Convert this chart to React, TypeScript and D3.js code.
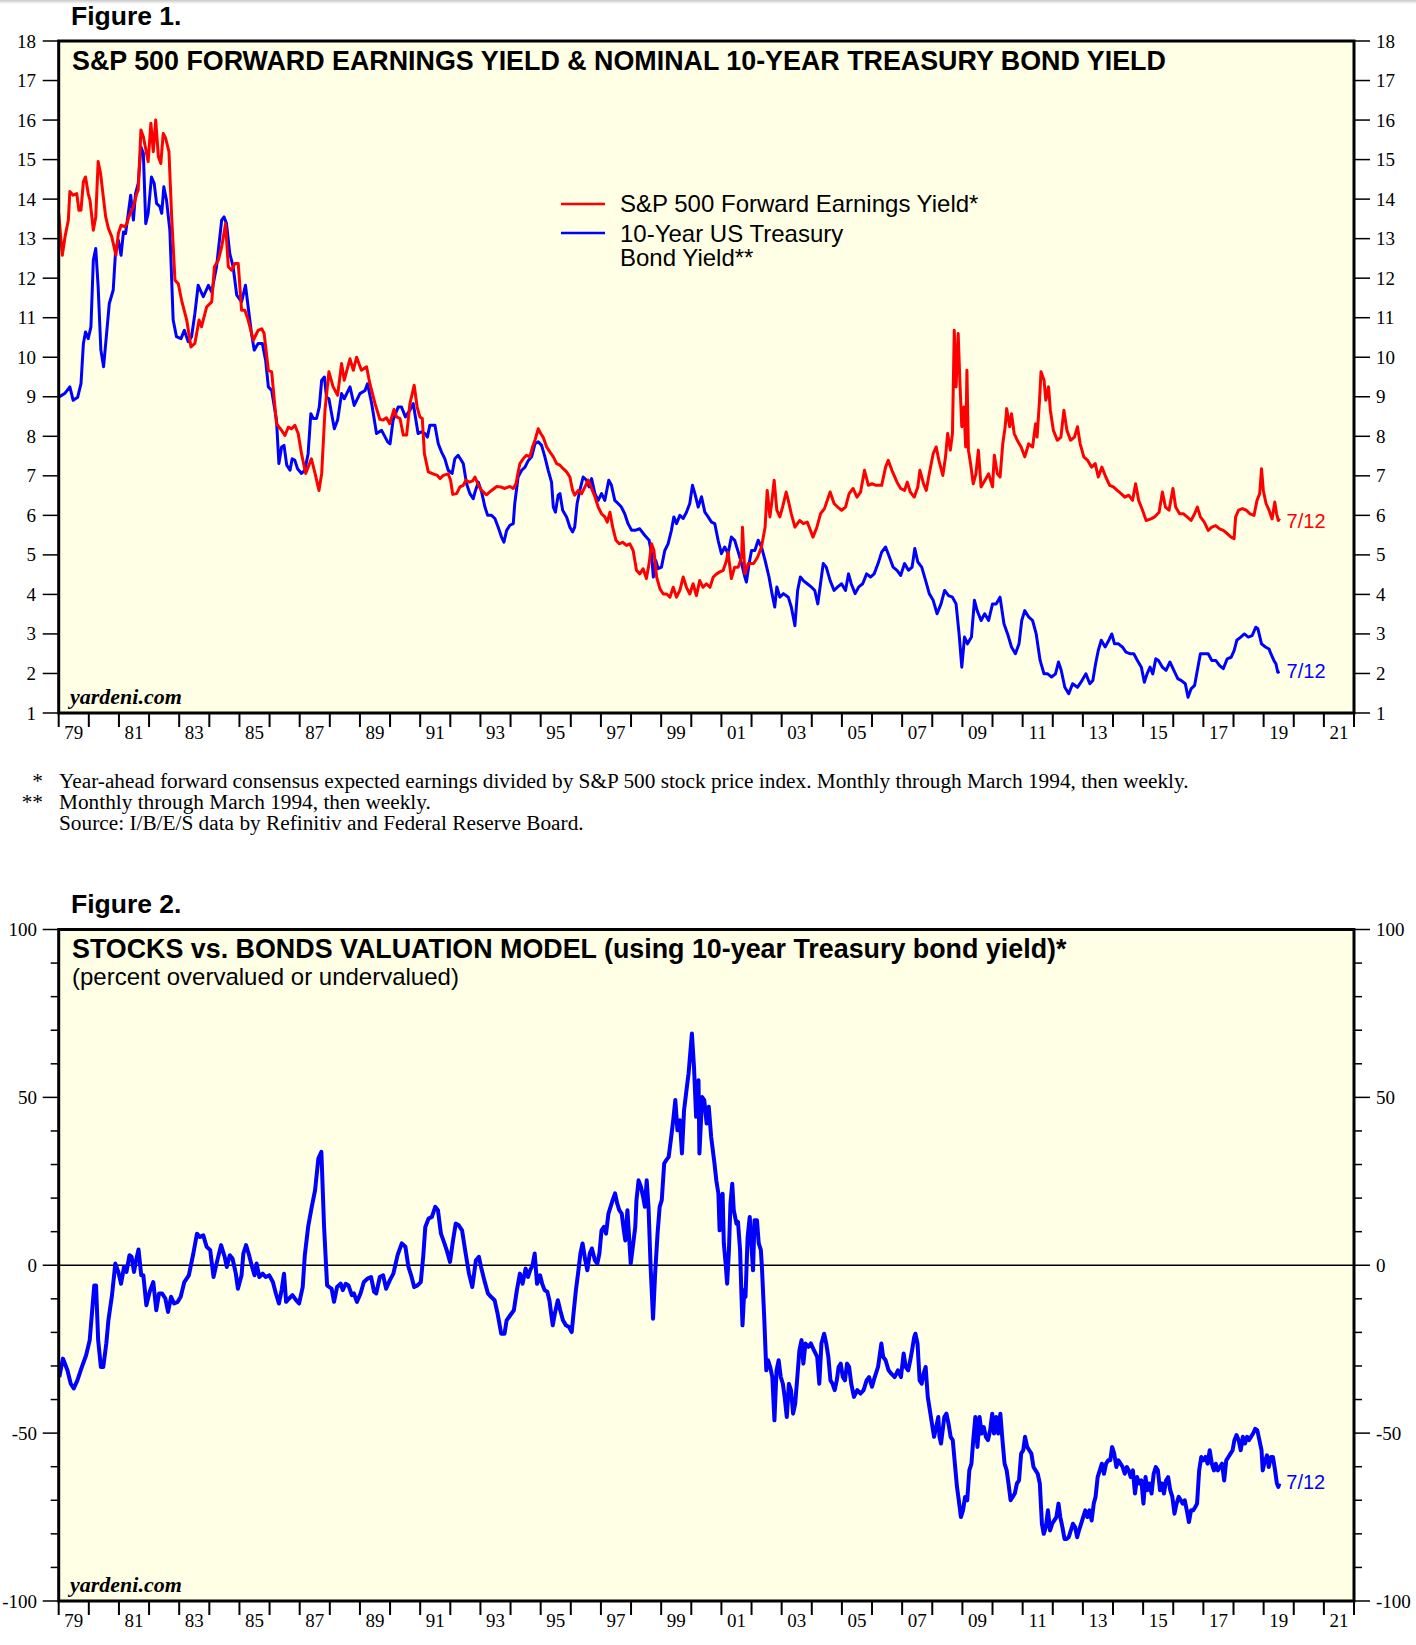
import React from "react";
import * as d3 from "d3";

// ---------- DATA ----------
const yearTickLabels = ["79","81","83","85","87","89","91","93","95","97","99","01","03","05","07","09","11","13","15","17","19","21"];
const fig1YTicks = [1,2,3,4,5,6,7,8,9,10,11,12,13,14,15,16,17,18];
const fig2YLabels = [100, 50, 0, -50, -100];
const fig2MinorTicks = [-90,-80,-70,-60,-40,-30,-20,-10,10,20,30,40,60,70,80,90];

const forwardEarningsYield: [number, number][] = [
[1979.00,13.64],[1979.12,12.58],[1979.21,13.05],[1979.32,13.47],[1979.37,14.19],[1979.48,14.10],[1979.60,14.14],[1979.67,13.72],[1979.74,13.72],[1979.82,14.44],[1979.89,14.56],[1979.98,14.14],
[1980.04,13.97],[1980.15,13.21],[1980.23,13.55],[1980.31,14.95],[1980.39,14.65],[1980.48,14.06],[1980.56,13.55],[1980.65,13.26],[1980.76,13.05],[1980.90,12.58],[1980.98,13.13],
[1981.07,13.34],[1981.20,13.30],[1981.26,13.38],[1981.37,13.64],[1981.48,13.81],[1981.59,14.14],[1981.64,14.23],[1981.73,15.75],[1981.81,15.58],[1981.97,14.95],
[1982.06,15.92],[1982.14,15.20],[1982.22,16.00],[1982.31,15.07],[1982.39,14.90],[1982.47,15.66],[1982.55,15.54],[1982.66,15.20],[1982.75,13.55],[1982.86,11.95],[1982.97,11.86],
[1983.08,11.44],[1983.25,10.94],[1983.39,10.26],[1983.52,10.35],[1983.66,10.94],[1983.74,10.77],[1983.91,11.27],
[1984.08,11.40],[1984.17,12.29],[1984.30,12.46],[1984.41,12.79],[1984.54,13.38],[1984.63,12.29],[1984.74,12.20],[1984.85,12.37],[1984.96,12.37],
[1985.07,11.19],[1985.18,11.19],[1985.29,10.94],[1985.46,10.43],[1985.62,10.68],[1985.74,10.72],[1985.82,10.60],[1985.96,9.67],
[1986.07,9.63],[1986.23,8.32],[1986.40,8.15],[1986.51,8.02],[1986.62,8.23],[1986.73,8.19],[1986.84,8.28],[1986.95,8.07],
[1987.06,7.56],[1987.20,7.06],[1987.39,7.43],[1987.51,7.06],[1987.64,6.63],[1987.73,7.06],[1987.84,8.66],[1987.97,9.63],
[1988.11,9.25],[1988.26,9.04],[1988.39,9.84],[1988.48,9.42],[1988.67,9.96],[1988.78,9.67],[1988.89,10.00],
[1989.05,9.67],[1989.22,9.76],[1989.33,9.33],[1989.50,8.83],[1989.66,8.43],[1989.77,8.41],[1989.88,8.47],[1989.99,8.32],
[1990.13,8.68],[1990.22,8.49],[1990.33,8.45],[1990.44,8.03],[1990.55,8.03],[1990.66,8.83],[1990.80,9.29],[1990.90,8.74],[1990.99,8.49],
[1991.07,8.45],[1991.14,7.56],[1991.27,7.10],[1991.43,7.05],[1991.57,7.01],[1991.66,6.93],[1991.77,7.01],[1991.93,7.05],
[1992.01,6.89],[1992.08,6.53],[1992.21,6.55],[1992.32,6.72],[1992.43,6.76],[1992.52,6.89],[1992.63,6.84],[1992.74,6.87],[1992.82,6.97],[1992.93,6.76],
[1993.04,6.63],[1993.20,6.52],[1993.37,6.63],[1993.54,6.73],[1993.67,6.72],[1993.81,6.68],[1993.98,6.73],
[1994.09,6.68],[1994.18,6.80],[1994.23,7.01],[1994.31,7.31],[1994.42,7.43],[1994.53,7.52],[1994.64,7.48],[1994.73,7.73],[1994.81,7.90],[1994.92,8.19],
[1995.00,8.07],[1995.08,7.98],[1995.20,7.73],[1995.31,7.60],[1995.42,7.48],[1995.53,7.31],[1995.64,7.27],[1995.75,7.18],[1995.86,7.10],[1995.97,6.97],
[1996.06,6.63],[1996.13,6.51],[1996.25,6.63],[1996.36,6.55],[1996.47,6.72],[1996.58,6.89],[1996.69,6.68],[1996.80,6.47],[1996.91,6.21],
[1997.02,6.04],[1997.13,5.96],[1997.21,5.83],[1997.30,6.08],[1997.39,5.70],[1997.50,5.37],[1997.61,5.28],[1997.72,5.32],[1997.85,5.24],[1997.96,5.28],
[1998.07,5.11],[1998.18,4.61],[1998.29,4.52],[1998.40,4.65],[1998.51,4.40],[1998.60,4.78],[1998.68,5.28],[1998.76,5.11],[1998.85,4.44],[1998.96,4.14],
[1999.07,4.01],[1999.18,4.01],[1999.29,3.93],[1999.40,4.18],[1999.51,3.93],[1999.62,4.10],[1999.73,4.44],[1999.84,4.18],[1999.95,4.01],
[2000.06,4.27],[2000.17,3.97],[2000.28,4.35],[2000.39,4.18],[2000.50,4.27],[2000.62,4.18],[2000.73,4.44],[2000.84,4.52],[2000.95,4.57],
[2001.06,4.61],[2001.17,4.86],[2001.22,5.07],[2001.33,4.40],[2001.44,4.69],[2001.56,4.69],[2001.67,4.95],[2001.70,5.70],[2001.78,4.52],[2001.89,4.78],
[2002.07,4.78],[2002.20,4.94],[2002.33,5.20],[2002.45,5.70],[2002.52,6.63],[2002.61,5.96],[2002.68,6.38],[2002.75,6.89],[2002.84,6.13],[2002.94,5.96],
[2003.03,6.21],[2003.15,6.59],[2003.22,6.38],[2003.32,6.04],[2003.44,5.70],[2003.60,5.87],[2003.72,5.79],[2003.85,5.83],
[2004.04,5.45],[2004.17,5.70],[2004.29,6.04],[2004.42,6.17],[2004.55,6.46],[2004.61,6.59],[2004.74,6.30],[2004.86,6.21],[2004.99,6.13],
[2005.12,6.21],[2005.24,6.55],[2005.37,6.68],[2005.50,6.46],[2005.62,6.59],[2005.75,7.14],[2005.88,6.76],
[2006.00,6.80],[2006.13,6.76],[2006.32,6.76],[2006.45,7.22],[2006.54,7.39],[2006.66,7.14],[2006.83,6.84],[2006.95,6.68],
[2007.08,6.63],[2007.17,6.84],[2007.27,6.59],[2007.40,6.46],[2007.52,6.72],[2007.59,7.14],[2007.71,6.80],[2007.80,6.63],[2007.90,7.05],
[2008.03,7.56],[2008.13,7.73],[2008.22,7.39],[2008.35,7.01],[2008.44,7.48],[2008.51,8.07],[2008.60,7.65],[2008.67,8.07],[2008.73,10.68],[2008.79,9.25],[2008.86,10.60],[2008.92,9.33],[2008.98,8.24],
[2009.05,8.74],[2009.11,7.73],[2009.15,9.67],[2009.20,7.65],[2009.27,7.31],[2009.36,6.80],[2009.45,7.05],[2009.53,7.65],[2009.62,6.72],[2009.75,6.89],[2009.87,7.05],
[2010.00,6.72],[2010.06,7.52],[2010.16,7.05],[2010.25,6.97],[2010.34,7.81],[2010.42,8.24],[2010.47,8.70],[2010.57,8.24],[2010.63,8.57],[2010.72,8.07],[2010.82,7.90],[2010.95,7.73],
[2011.07,7.48],[2011.20,7.81],[2011.33,7.73],[2011.43,8.32],[2011.48,7.98],[2011.56,8.91],[2011.61,9.63],[2011.71,9.42],[2011.77,8.91],[2011.86,9.25],[2011.92,8.66],
[2012.02,8.15],[2012.15,7.90],[2012.27,7.98],[2012.37,8.66],[2012.47,8.15],[2012.59,7.90],[2012.72,7.98],[2012.82,8.24],[2012.91,7.81],
[2013.03,7.48],[2013.16,7.39],[2013.29,7.22],[2013.41,7.31],[2013.51,6.97],[2013.63,7.22],[2013.76,6.97],[2013.89,6.76],
[2014.01,6.72],[2014.14,6.63],[2014.27,6.55],[2014.39,6.46],[2014.52,6.51],[2014.65,6.38],[2014.75,6.80],[2014.85,6.38],[2014.98,6.13],
[2015.10,5.87],[2015.26,5.91],[2015.38,5.96],[2015.53,6.08],[2015.64,6.59],[2015.74,6.21],[2015.86,6.13],[2015.99,6.68],
[2016.08,6.21],[2016.21,6.04],[2016.34,6.04],[2016.46,5.96],[2016.59,5.87],[2016.71,6.04],[2016.80,6.21],[2016.90,5.96],
[2017.03,5.83],[2017.16,5.62],[2017.28,5.70],[2017.41,5.74],[2017.54,5.66],[2017.66,5.62],[2017.79,5.54],[2017.92,5.45],
[2018.02,5.41],[2018.07,5.96],[2018.17,6.13],[2018.30,6.17],[2018.42,6.13],[2018.55,6.04],[2018.68,6.00],[2018.78,6.38],[2018.87,6.55],[2018.93,7.18],[2018.99,6.63],
[2019.08,6.30],[2019.18,6.13],[2019.28,5.91],[2019.37,6.34],[2019.43,6.04],[2019.49,5.87],[2019.53,5.92]
];

const treasuryYield: [number, number][] = [
[1979.00,8.99],[1979.21,9.09],[1979.37,9.25],[1979.48,8.91],[1979.63,8.99],[1979.74,9.33],[1979.82,10.35],[1979.89,10.64],[1979.98,10.47],
[1980.07,10.77],[1980.15,12.46],[1980.23,12.75],[1980.31,11.78],[1980.40,10.18],[1980.49,9.76],[1980.59,10.60],[1980.68,11.36],[1980.81,11.70],[1980.89,12.71],[1980.98,12.96],
[1981.07,12.58],[1981.15,13.17],[1981.22,13.13],[1981.31,13.64],[1981.39,14.10],[1981.48,13.47],[1981.55,14.14],[1981.64,14.40],[1981.73,15.32],[1981.81,15.16],[1981.89,13.38],[1981.97,13.64],
[1982.08,14.56],[1982.17,14.40],[1982.25,13.89],[1982.36,13.81],[1982.42,13.64],[1982.49,14.31],[1982.58,13.97],[1982.69,13.21],[1982.80,10.94],[1982.91,10.52],
[1983.06,10.47],[1983.17,10.68],[1983.30,10.39],[1983.41,10.52],[1983.52,11.10],[1983.63,11.82],[1983.80,11.53],[1983.97,11.82],
[1984.08,11.65],[1984.24,12.29],[1984.41,13.47],[1984.49,13.55],[1984.57,13.38],[1984.68,12.62],[1984.79,12.29],[1984.91,11.57],
[1985.07,11.40],[1985.20,11.82],[1985.29,11.27],[1985.40,10.60],[1985.49,10.18],[1985.62,10.35],[1985.76,10.35],[1985.87,9.92],[1985.96,9.25],
[1986.07,9.16],[1986.23,8.41],[1986.31,7.31],[1986.40,7.73],[1986.48,7.77],[1986.57,7.27],[1986.68,7.14],[1986.75,7.43],[1986.84,7.39],[1986.93,7.18],
[1987.06,7.06],[1987.17,7.14],[1987.28,7.56],[1987.37,8.57],[1987.45,8.45],[1987.56,8.45],[1987.65,8.74],[1987.73,9.42],[1987.82,9.50],[1987.89,8.99],[1987.97,8.95],
[1988.15,8.19],[1988.26,8.41],[1988.39,9.08],[1988.48,8.95],[1988.67,9.25],[1988.81,8.78],
[1989.00,9.08],[1989.17,9.16],[1989.25,9.33],[1989.39,8.83],[1989.55,8.07],[1989.72,8.15],[1989.92,7.86],
[1990.00,7.81],[1990.10,8.41],[1990.27,8.74],[1990.38,8.74],[1990.51,8.49],[1990.66,8.66],[1990.77,8.83],[1990.93,8.07],
[1991.04,8.11],[1991.16,8.07],[1991.24,7.98],[1991.32,8.28],[1991.49,8.28],[1991.60,7.81],[1991.71,7.60],[1991.82,7.43],[1991.93,7.14],
[1992.06,7.06],[1992.15,7.43],[1992.26,7.52],[1992.43,7.31],[1992.54,6.80],[1992.65,6.55],[1992.76,6.42],[1992.82,6.59],[1992.93,6.84],
[1993.04,6.59],[1993.15,6.21],[1993.24,6.00],[1993.37,6.00],[1993.48,5.92],[1993.59,5.70],[1993.70,5.45],[1993.78,5.32],[1993.87,5.62],[1993.98,5.75],
[1994.09,5.79],[1994.14,6.30],[1994.25,6.97],[1994.37,7.14],[1994.48,7.22],[1994.59,7.39],[1994.70,7.48],[1994.81,7.81],[1994.92,7.86],
[1995.03,7.77],[1995.14,7.48],[1995.25,7.14],[1995.36,6.84],[1995.42,6.21],[1995.49,6.08],[1995.58,6.51],[1995.64,6.55],[1995.73,6.13],[1995.86,5.96],[1995.97,5.70],
[1996.06,5.58],[1996.13,5.70],[1996.21,6.30],[1996.30,6.63],[1996.41,6.97],[1996.52,6.89],[1996.61,6.72],[1996.69,6.93],[1996.80,6.55],[1996.91,6.38],
[1997.02,6.55],[1997.13,6.38],[1997.26,6.89],[1997.35,6.76],[1997.46,6.38],[1997.57,6.30],[1997.68,6.21],[1997.79,6.04],[1997.90,5.79],
[1998.02,5.62],[1998.13,5.62],[1998.29,5.66],[1998.46,5.49],[1998.60,5.37],[1998.68,5.03],[1998.74,4.44],[1998.82,4.86],[1998.90,4.65],
[1999.01,4.69],[1999.12,5.11],[1999.23,5.28],[1999.34,5.62],[1999.42,5.96],[1999.51,5.79],[1999.62,6.00],[1999.73,5.92],[1999.84,6.08],[1999.95,6.30],
[2000.04,6.76],[2000.12,6.55],[2000.23,6.21],[2000.34,6.47],[2000.45,6.08],[2000.56,5.96],[2000.67,5.83],[2000.78,5.79],[2000.89,5.37],
[2001.00,5.03],[2001.11,5.20],[2001.22,5.03],[2001.33,5.45],[2001.44,5.37],[2001.56,5.07],[2001.67,4.78],[2001.78,4.44],[2001.83,4.31],[2001.92,4.78],
[2002.00,5.11],[2002.11,5.11],[2002.22,5.37],[2002.33,5.20],[2002.45,4.86],[2002.58,4.44],[2002.68,4.02],[2002.77,3.68],[2002.84,4.19],[2002.94,3.93],
[2003.06,4.02],[2003.22,3.93],[2003.32,3.68],[2003.44,3.21],[2003.53,4.10],[2003.62,4.44],[2003.72,4.35],[2003.85,4.27],[2003.98,4.19],
[2004.10,4.10],[2004.20,3.76],[2004.29,4.27],[2004.38,4.78],[2004.48,4.69],[2004.61,4.35],[2004.74,4.10],[2004.86,4.19],[2004.99,4.27],
[2005.12,4.10],[2005.22,4.52],[2005.31,4.27],[2005.44,4.02],[2005.56,4.19],[2005.69,4.27],[2005.82,4.52],[2005.95,4.44],
[2006.07,4.52],[2006.20,4.78],[2006.32,5.07],[2006.45,5.20],[2006.58,4.94],[2006.70,4.69],[2006.83,4.61],[2006.95,4.48],
[2007.08,4.78],[2007.21,4.61],[2007.33,4.69],[2007.42,5.16],[2007.52,4.82],[2007.65,4.69],[2007.78,4.35],[2007.90,4.02],
[2008.03,3.85],[2008.16,3.51],[2008.29,3.76],[2008.41,4.10],[2008.54,3.97],[2008.67,3.93],[2008.79,3.76],[2008.89,3.00],[2008.98,2.16],
[2009.07,2.92],[2009.17,2.75],[2009.30,2.92],[2009.40,3.85],[2009.49,3.59],[2009.62,3.34],[2009.74,3.51],[2009.87,3.34],
[2010.00,3.76],[2010.12,3.76],[2010.25,3.93],[2010.38,3.26],[2010.50,3.00],[2010.63,2.67],[2010.76,2.50],[2010.88,2.75],[2010.97,3.34],
[2011.07,3.59],[2011.20,3.43],[2011.33,3.34],[2011.45,3.00],[2011.58,2.33],[2011.71,1.99],[2011.83,1.99],[2011.96,1.91],
[2012.09,1.99],[2012.19,2.29],[2012.28,2.08],[2012.40,1.65],[2012.53,1.49],[2012.66,1.74],[2012.82,1.65],[2012.97,1.82],
[2013.10,1.99],[2013.23,1.74],[2013.33,1.82],[2013.42,2.24],[2013.51,2.58],[2013.61,2.84],[2013.74,2.67],[2013.86,2.84],[2013.96,3.00],
[2014.05,2.75],[2014.18,2.75],[2014.31,2.67],[2014.43,2.54],[2014.56,2.50],[2014.69,2.50],[2014.81,2.33],[2014.94,2.16],
[2015.04,1.78],[2015.13,1.99],[2015.23,2.16],[2015.32,1.99],[2015.42,2.37],[2015.51,2.33],[2015.64,2.16],[2015.76,2.08],[2015.89,2.29],
[2016.02,2.08],[2016.15,1.87],[2016.27,1.82],[2016.40,1.74],[2016.49,1.40],[2016.59,1.61],[2016.71,1.70],[2016.80,2.08],[2016.90,2.50],
[2017.03,2.50],[2017.16,2.50],[2017.28,2.33],[2017.41,2.33],[2017.54,2.20],[2017.66,2.12],[2017.79,2.37],[2017.92,2.41],
[2018.02,2.58],[2018.11,2.84],[2018.24,2.92],[2018.36,3.00],[2018.49,2.92],[2018.62,2.96],[2018.74,3.17],[2018.81,3.13],[2018.93,2.75],
[2019.06,2.67],[2019.18,2.62],[2019.24,2.50],[2019.34,2.33],[2019.41,2.24],[2019.47,2.03],[2019.53,2.05]
];

const valuationModel: [number, number][] = [
[1979.02,-33.3],[1979.14,-27.8],[1979.29,-31.3],[1979.40,-35.3],[1979.50,-36.7],[1979.62,-34.3],[1979.77,-30.3],[1979.91,-26.8],
[1980.03,-22.3],[1980.18,-6.0],[1980.24,-6.0],[1980.31,-22.3],[1980.40,-30.3],[1980.48,-30.3],[1980.58,-23.3],[1980.65,-16.4],[1980.77,-8.9],[1980.88,0.5],[1980.98,-2.0],
[1981.07,-5.5],[1981.17,-0.5],[1981.25,-2.0],[1981.35,3.0],[1981.42,2.5],[1981.50,-2.0],[1981.57,1.5],[1981.65,4.7],[1981.74,-3.0],[1981.81,-3.0],[1981.91,-11.9],
[1982.02,-7.9],[1982.14,-5.0],[1982.24,-13.4],[1982.33,-8.4],[1982.43,-8.4],[1982.54,-9.9],[1982.63,-13.9],[1982.73,-9.4],[1982.83,-11.4],[1982.95,-10.9],
[1983.05,-9.4],[1983.17,-5.0],[1983.32,-3.0],[1983.47,3.5],[1983.59,9.4],[1983.69,8.4],[1983.80,8.9],[1983.91,5.5],
[1984.03,4.5],[1984.14,-3.5],[1984.24,0.5],[1984.39,6.0],[1984.51,2.5],[1984.58,-0.5],[1984.68,3.0],[1984.77,2.0],[1984.88,-2.5],[1984.95,-7.0],
[1985.07,-3.0],[1985.13,3.5],[1985.22,6.0],[1985.32,3.0],[1985.42,-0.5],[1985.50,-3.0],[1985.57,0.5],[1985.66,-3.5],[1985.77,-2.5],[1985.87,-3.5],[1985.99,-3.0],
[1986.11,-5.0],[1986.21,-8.4],[1986.31,-11.4],[1986.40,-7.4],[1986.48,-2.5],[1986.55,-10.9],[1986.65,-9.9],[1986.76,-8.9],[1986.88,-10.4],[1986.98,-11.4],
[1987.10,-6.5],[1987.17,3.0],[1987.28,11.4],[1987.40,17.4],[1987.51,22.3],[1987.62,31.8],[1987.72,33.8],[1987.81,11.4],[1987.91,-6.0],
[1988.06,-7.0],[1988.14,-10.9],[1988.24,-6.5],[1988.36,-5.5],[1988.43,-7.4],[1988.53,-5.5],[1988.62,-6.0],[1988.73,-8.9],[1988.80,-8.4],[1988.90,-10.9],
[1989.02,-8.4],[1989.13,-5.0],[1989.25,-4.0],[1989.37,-3.5],[1989.47,-7.9],[1989.54,-8.4],[1989.66,-3.5],[1989.77,-3.0],[1989.87,-7.0],[1989.99,-4.5],
[1990.11,-2.5],[1990.25,3.0],[1990.39,6.5],[1990.51,5.5],[1990.61,-0.5],[1990.70,-3.0],[1990.80,-6.5],[1990.91,-6.0],
[1991.02,-5.0],[1991.10,2.5],[1991.17,11.4],[1991.28,13.9],[1991.39,14.4],[1991.50,17.4],[1991.59,16.4],[1991.69,9.4],[1991.77,7.4],[1991.88,4.5],[1991.99,1.0],
[1992.09,7.4],[1992.18,12.4],[1992.28,11.9],[1992.39,10.4],[1992.51,3.5],[1992.62,-2.5],[1992.73,-6.5],[1992.85,1.5],[1992.95,2.5],
[1993.02,-0.5],[1993.13,-4.5],[1993.25,-8.4],[1993.35,-9.4],[1993.47,-10.4],[1993.57,-14.4],[1993.69,-20.4],[1993.80,-20.4],[1993.87,-16.4],[1993.99,-14.9],
[1994.11,-13.4],[1994.21,-7.4],[1994.31,-2.5],[1994.40,-5.5],[1994.50,-1.0],[1994.58,-3.5],[1994.65,-1.5],[1994.73,0.0],[1994.80,3.5],[1994.88,-5.5],[1994.98,-3.0],
[1995.05,-5.5],[1995.13,-7.4],[1995.22,-7.9],[1995.29,-10.4],[1995.40,-17.9],[1995.47,-14.4],[1995.57,-10.4],[1995.65,-13.4],[1995.74,-16.4],[1995.84,-17.9],[1995.94,-18.4],
[1996.03,-19.9],[1996.09,-14.4],[1996.17,-7.4],[1996.24,-2.5],[1996.32,3.5],[1996.39,6.5],[1996.48,1.5],[1996.55,-1.5],[1996.63,3.5],[1996.70,5.0],[1996.80,1.5],[1996.88,0.5],[1996.95,3.5],
[1997.02,10.4],[1997.10,11.4],[1997.17,9.4],[1997.25,15.4],[1997.32,17.4],[1997.39,19.4],[1997.47,21.4],[1997.54,18.4],[1997.61,16.4],[1997.69,15.4],[1997.76,10.4],[1997.81,7.4],[1997.88,16.4],[1997.99,0.5],
[1998.06,5.5],[1998.14,11.4],[1998.18,19.4],[1998.25,25.3],[1998.33,23.3],[1998.40,20.4],[1998.46,17.4],[1998.52,25.3],[1998.58,17.4],[1998.65,-0.5],[1998.73,-15.9],[1998.80,-2.5],[1998.88,9.4],[1998.95,17.4],
[1999.02,19.4],[1999.10,30.3],[1999.17,31.3],[1999.25,32.3],[1999.32,37.2],[1999.40,43.2],[1999.47,49.2],[1999.54,40.2],[1999.62,43.2],[1999.69,33.3],[1999.76,46.2],[1999.84,52.1],[1999.91,57.1],
[2000.02,69.0],[2000.09,59.1],[2000.16,44.2],[2000.24,55.1],[2000.27,33.3],[2000.36,50.1],[2000.43,49.2],[2000.51,42.2],[2000.58,47.2],[2000.66,38.2],
[2000.77,30.3],[2000.83,25.3],[2000.90,21.3],[2000.94,10.4],[2000.98,18.4],[2001.04,21.3],[2001.08,6.5],[2001.14,0.5],[2001.19,-5.5],[2001.25,4.5],[2001.30,18.4],[2001.36,24.3],[2001.41,16.4],[2001.50,12.4],[2001.55,12.9],[2001.62,4.5],[2001.66,-7.4],[2001.70,-17.9],[2001.76,-7.4],[2001.80,-9.4],[2001.87,8.4],[2001.94,14.4],
[2002.00,5.5],[2002.05,-1.5],[2002.10,13.4],[2002.18,13.4],[2002.24,6.5],[2002.31,4.5],[2002.35,-1.5],[2002.42,-15.4],[2002.49,-31.3],[2002.55,-28.3],[2002.62,-30.3],[2002.69,-33.3],[2002.76,-46.2],[2002.83,-31.3],[2002.90,-28.3],[2002.97,-33.3],
[2003.04,-35.3],[2003.10,-39.2],[2003.17,-45.2],[2003.24,-35.3],[2003.31,-37.2],[2003.38,-44.2],[2003.45,-41.2],[2003.52,-33.3],[2003.59,-25.3],[2003.66,-22.3],[2003.72,-29.3],[2003.79,-23.3],[2003.89,-24.3],[2003.97,-23.3],
[2004.07,-25.3],[2004.18,-27.3],[2004.25,-35.3],[2004.32,-23.3],[2004.41,-20.4],[2004.48,-23.3],[2004.55,-27.3],[2004.62,-34.3],[2004.69,-35.3],[2004.76,-37.2],[2004.83,-34.3],[2004.89,-30.3],[2004.96,-29.3],
[2005.03,-33.3],[2005.10,-34.3],[2005.17,-29.3],[2005.24,-30.3],[2005.31,-35.3],[2005.40,-39.2],[2005.51,-37.2],[2005.62,-38.2],[2005.72,-37.2],[2005.82,-34.3],[2005.90,-33.3],
[2006.00,-36.2],[2006.09,-33.3],[2006.20,-30.3],[2006.31,-23.3],[2006.37,-27.3],[2006.45,-28.3],[2006.55,-31.3],[2006.64,-32.3],[2006.75,-33.3],[2006.86,-31.3],[2006.96,-33.3],
[2007.05,-26.3],[2007.12,-30.3],[2007.20,-31.3],[2007.27,-28.3],[2007.33,-25.3],[2007.40,-21.4],[2007.44,-20.4],[2007.51,-23.3],[2007.58,-34.3],[2007.65,-35.3],[2007.71,-32.3],[2007.78,-30.3],[2007.85,-39.2],[2007.92,-43.2],[2007.99,-47.2],
[2008.06,-51.1],[2008.13,-48.2],[2008.20,-45.2],[2008.24,-51.1],[2008.29,-53.1],[2008.40,-45.2],[2008.47,-44.2],[2008.54,-47.2],[2008.61,-51.1],[2008.68,-52.1],[2008.75,-59.1],[2008.82,-66.0],[2008.88,-70.0],[2008.95,-75.0],
[2009.02,-73.0],[2009.09,-69.0],[2009.16,-70.0],[2009.23,-61.1],[2009.30,-59.1],[2009.36,-52.1],[2009.43,-45.2],[2009.50,-54.1],[2009.57,-45.2],[2009.64,-50.1],[2009.71,-48.2],[2009.78,-51.1],[2009.85,-52.1],[2009.92,-49.2],[2009.99,-44.2],
[2010.05,-50.1],[2010.12,-45.2],[2010.19,-50.1],[2010.26,-44.2],[2010.33,-52.1],[2010.40,-59.1],[2010.47,-61.1],[2010.53,-65.0],[2010.60,-70.0],[2010.67,-69.0],[2010.74,-68.0],[2010.81,-65.0],[2010.88,-64.1],[2010.95,-56.1],
[2011.02,-55.1],[2011.08,-51.1],[2011.15,-54.1],[2011.22,-55.1],[2011.29,-56.1],[2011.36,-60.1],[2011.43,-61.1],[2011.50,-62.1],[2011.57,-65.0],[2011.64,-77.0],[2011.70,-80.0],[2011.77,-78.0],[2011.84,-73.0],[2011.91,-79.0],[2011.98,-77.0],
[2012.05,-76.0],[2012.12,-75.0],[2012.19,-71.0],[2012.25,-75.0],[2012.32,-78.0],[2012.39,-81.5],[2012.46,-81.5],[2012.53,-81.0],[2012.60,-79.0],[2012.67,-77.0],[2012.74,-78.0],[2012.81,-81.0],[2012.87,-79.0],[2012.94,-77.0],
[2013.01,-75.0],[2013.08,-73.0],[2013.15,-75.0],[2013.22,-73.0],[2013.29,-76.0],[2013.36,-71.0],[2013.42,-69.0],[2013.49,-63.1],[2013.56,-61.1],[2013.63,-59.1],[2013.70,-62.1],[2013.77,-59.1],[2013.84,-58.1],[2013.91,-58.1],[2013.97,-54.1],
[2014.04,-56.1],[2014.11,-60.1],[2014.18,-58.1],[2014.25,-59.1],[2014.32,-60.1],[2014.39,-62.1],[2014.46,-60.1],[2014.52,-61.1],[2014.59,-63.1],[2014.66,-61.1],[2014.73,-68.0],[2014.80,-63.1],[2014.87,-65.0],[2014.94,-64.1],
[2015.01,-71.0],[2015.08,-63.1],[2015.14,-67.0],[2015.21,-65.0],[2015.28,-68.0],[2015.35,-62.1],[2015.42,-60.1],[2015.49,-61.1],[2015.56,-67.0],[2015.63,-65.0],[2015.69,-68.0],[2015.76,-64.1],[2015.83,-63.1],[2015.90,-67.0],[2015.97,-69.0],
[2016.04,-74.0],[2016.11,-71.0],[2016.18,-69.0],[2016.25,-70.0],[2016.31,-71.0],[2016.38,-70.0],[2016.45,-73.0],[2016.52,-76.5],[2016.59,-73.0],[2016.66,-73.0],[2016.73,-72.0],[2016.79,-71.0],[2016.86,-61.1],[2016.93,-57.1],
[2017.00,-58.1],[2017.07,-57.1],[2017.14,-59.1],[2017.21,-55.1],[2017.28,-59.1],[2017.35,-61.1],[2017.41,-59.1],[2017.48,-61.1],[2017.55,-60.1],[2017.62,-59.1],[2017.69,-64.1],[2017.76,-58.1],[2017.83,-57.1],[2017.90,-56.1],[2017.97,-55.1],
[2018.03,-52.1],[2018.10,-50.6],[2018.17,-52.1],[2018.24,-55.1],[2018.31,-51.1],[2018.38,-53.1],[2018.45,-51.1],[2018.51,-52.1],[2018.58,-51.1],[2018.65,-50.1],[2018.72,-48.7],[2018.79,-49.2],[2018.86,-52.1],[2018.93,-55.1],[2018.97,-61.1],
[2019.02,-59.1],[2019.11,-56.6],[2019.17,-60.1],[2019.24,-57.1],[2019.31,-57.1],[2019.38,-61.1],[2019.44,-65.0],[2019.49,-66.0],[2019.52,-65.0]
];

const fig1Title = "S&P 500 FORWARD EARNINGS YIELD & NOMINAL 10-YEAR TREASURY BOND YIELD";
const fig2Title = "STOCKS vs. BONDS VALUATION MODEL (using 10-year Treasury bond yield)*";
const fig2Subtitle = "(percent overvalued or undervalued)";
const footnotes = [
  ["*", "Year-ahead forward consensus expected earnings divided by S&P 500 stock price index. Monthly through March 1994, then weekly."],
  ["**", "Monthly through March 1994, then weekly."],
  ["", "Source: I/B/E/S data by Refinitiv and Federal Reserve Board."],
];

// ---------- LAYOUT ----------
const W = 1416, H = 1645;
const X0 = 58.7, X1 = 1354;
const P1T = 41, P1B = 713;
const P2T = 929.5, P2B = 1601;
const SANS = "'Liberation Sans', Arial, Helvetica, sans-serif";
const SERIF = "'Liberation Serif', 'Times New Roman', Times, serif";
const BG = "#FFFFE5";
const RED = "#FF0000";
const BLUE = "#0000FF";

const x = d3.scaleLinear().domain([1979, 2022]).range([X0, X1]);
const y1 = d3.scaleLinear().domain([1, 18]).range([P1B, P1T]);
const y2 = d3.scaleLinear().domain([-100, 100]).range([P2B, P2T]);
const yearTicks = d3.range(1979, 2023);

function XAxis({ bottom }: { bottom: number }) {
  return (
    <g>
      {yearTicks.map((yr) => (
        <line key={yr} x1={x(yr)} x2={x(yr)} y1={bottom} y2={bottom + 14} stroke="#000" strokeWidth={2} />
      ))}
      {yearTickLabels.map((lab, i) => (
        <text key={lab} x={x(1979 + 2 * i + 0.5)} y={bottom + 26} fontFamily={SERIF} fontSize={19} textAnchor="middle">{lab}</text>
      ))}
    </g>
  );
}

export default function App() {
  const line1 = d3.line<[number, number]>().x((d) => x(d[0])).y((d) => y1(d[1]));
  const line2 = d3.line<[number, number]>().x((d) => x(d[0])).y((d) => y2(d[1]));
  const lastEY = forwardEarningsYield[forwardEarningsYield.length - 1];
  const lastTY = treasuryYield[treasuryYield.length - 1];
  const lastVM = valuationModel[valuationModel.length - 1];

  return (
    <svg width={W} height={H} viewBox={`0 0 ${W} ${H}`} style={{ position: "absolute", left: 0, top: 0, background: "#fff" }}>
      <defs>
        <clipPath id="c1"><rect x={X0} y={P1T} width={X1 - X0} height={P1B - P1T} /></clipPath>
        <clipPath id="c2"><rect x={X0} y={P2T} width={X1 - X0} height={P2B - P2T} /></clipPath>
        <linearGradient id="topg" x1="0" y1="0" x2="0" y2="1">
          <stop offset="0" stopColor="#c8c8c8" />
          <stop offset="1" stopColor="#ffffff" />
        </linearGradient>
      </defs>
      <rect x={0} y={0} width={W} height={4} fill="url(#topg)" />

      {/* ---------------- FIGURE 1 ---------------- */}
      <text x={71} y={25} fontFamily={SANS} fontWeight="bold" fontSize={26.5}>Figure 1.</text>
      <rect x={X0} y={P1T} width={X1 - X0} height={P1B - P1T} fill={BG} />
      <text x={72} y={70} fontFamily={SANS} fontWeight="bold" fontSize={26.85}>{fig1Title}</text>

      {fig1YTicks.map((v) => (
        <g key={v}>
          <line x1={X0 - 16} x2={X0} y1={y1(v)} y2={y1(v)} stroke="#000" strokeWidth={1.5} />
          <line x1={X1} x2={X1 + 16} y1={y1(v)} y2={y1(v)} stroke="#000" strokeWidth={1.5} />
          <text x={36} y={y1(v) + 6.5} fontFamily={SERIF} fontSize={19} textAnchor="end">{v}</text>
          <text x={1376} y={y1(v) + 6.5} fontFamily={SERIF} fontSize={19}>{v}</text>
        </g>
      ))}

      <g clipPath="url(#c1)">
        <path d={line1(treasuryYield) || ""} fill="none" stroke={BLUE} strokeWidth={3} strokeLinejoin="round" />
        <path d={line1(forwardEarningsYield) || ""} fill="none" stroke={RED} strokeWidth={3} strokeLinejoin="round" />
      </g>

      {/* legend */}
      <line x1={561} x2={605} y1={204} y2={204} stroke={RED} strokeWidth={2.5} />
      <text x={620} y={212} fontFamily={SANS} fontSize={24}>S&amp;P 500 Forward Earnings Yield*</text>
      <line x1={561} x2={605} y1={233} y2={233} stroke={BLUE} strokeWidth={2.5} />
      <text x={620} y={242} fontFamily={SANS} fontSize={24}>10-Year US Treasury</text>
      <text x={620} y={266} fontFamily={SANS} fontSize={24}>Bond Yield**</text>

      <text x={x(lastEY[0]) + 7} y={528} fontFamily={SANS} fontSize={20} fill={RED}>7/12</text>
      <text x={x(lastTY[0]) + 7} y={678} fontFamily={SANS} fontSize={20} fill={BLUE}>7/12</text>

      <text x={70} y={704} fontFamily={SERIF} fontStyle="italic" fontWeight="bold" fontSize={22}>yardeni.com</text>
      <rect x={X0} y={P1T} width={X1 - X0} height={P1B - P1T} fill="none" stroke="#000" strokeWidth={3} />
      <XAxis bottom={P1B} />

      {/* footnotes */}
      {footnotes.map((f, i) => (
        <g key={i}>
          <text x={43} y={788 + i * 21} fontFamily={SERIF} fontSize={21.3} textAnchor="end">{f[0]}</text>
          <text x={59} y={788 + i * 21} fontFamily={SERIF} fontSize={21.3}>{f[1]}</text>
        </g>
      ))}

      {/* ---------------- FIGURE 2 ---------------- */}
      <text x={71} y={913} fontFamily={SANS} fontWeight="bold" fontSize={26.5}>Figure 2.</text>
      <rect x={X0} y={P2T} width={X1 - X0} height={P2B - P2T} fill={BG} />
      <text x={72} y={958} fontFamily={SANS} fontWeight="bold" fontSize={26.85}>{fig2Title}</text>
      <text x={72} y={985} fontFamily={SANS} fontSize={24}>{fig2Subtitle}</text>

      {fig2MinorTicks.map((v) => (
        <g key={v}>
          <line x1={X0 - 8} x2={X0} y1={y2(v)} y2={y2(v)} stroke="#000" strokeWidth={1.5} />
          <line x1={X1} x2={X1 + 8} y1={y2(v)} y2={y2(v)} stroke="#000" strokeWidth={1.5} />
        </g>
      ))}
      {fig2YLabels.map((v) => (
        <g key={v}>
          <line x1={X0 - 16} x2={X0} y1={y2(v)} y2={y2(v)} stroke="#000" strokeWidth={1.5} />
          <line x1={X1} x2={X1 + 16} y1={y2(v)} y2={y2(v)} stroke="#000" strokeWidth={1.5} />
          <text x={37} y={y2(v) + 6.5} fontFamily={SERIF} fontSize={19} textAnchor="end">{v}</text>
          <text x={1376} y={y2(v) + 6.5} fontFamily={SERIF} fontSize={19}>{v}</text>
        </g>
      ))}

      <line x1={X0} x2={X1} y1={y2(0)} y2={y2(0)} stroke="#000" strokeWidth={1.3} />
      <g clipPath="url(#c2)">
        <path d={line2(valuationModel) || ""} fill="none" stroke={BLUE} strokeWidth={4} strokeLinejoin="round" />
      </g>
      <text x={x(lastVM[0]) + 7} y={1489} fontFamily={SANS} fontSize={20} fill={BLUE}>7/12</text>

      <text x={70} y={1592} fontFamily={SERIF} fontStyle="italic" fontWeight="bold" fontSize={22}>yardeni.com</text>
      <rect x={X0} y={P2T} width={X1 - X0} height={P2B - P2T} fill="none" stroke="#000" strokeWidth={3} />
      <XAxis bottom={P2B} />
    </svg>
  );
}
